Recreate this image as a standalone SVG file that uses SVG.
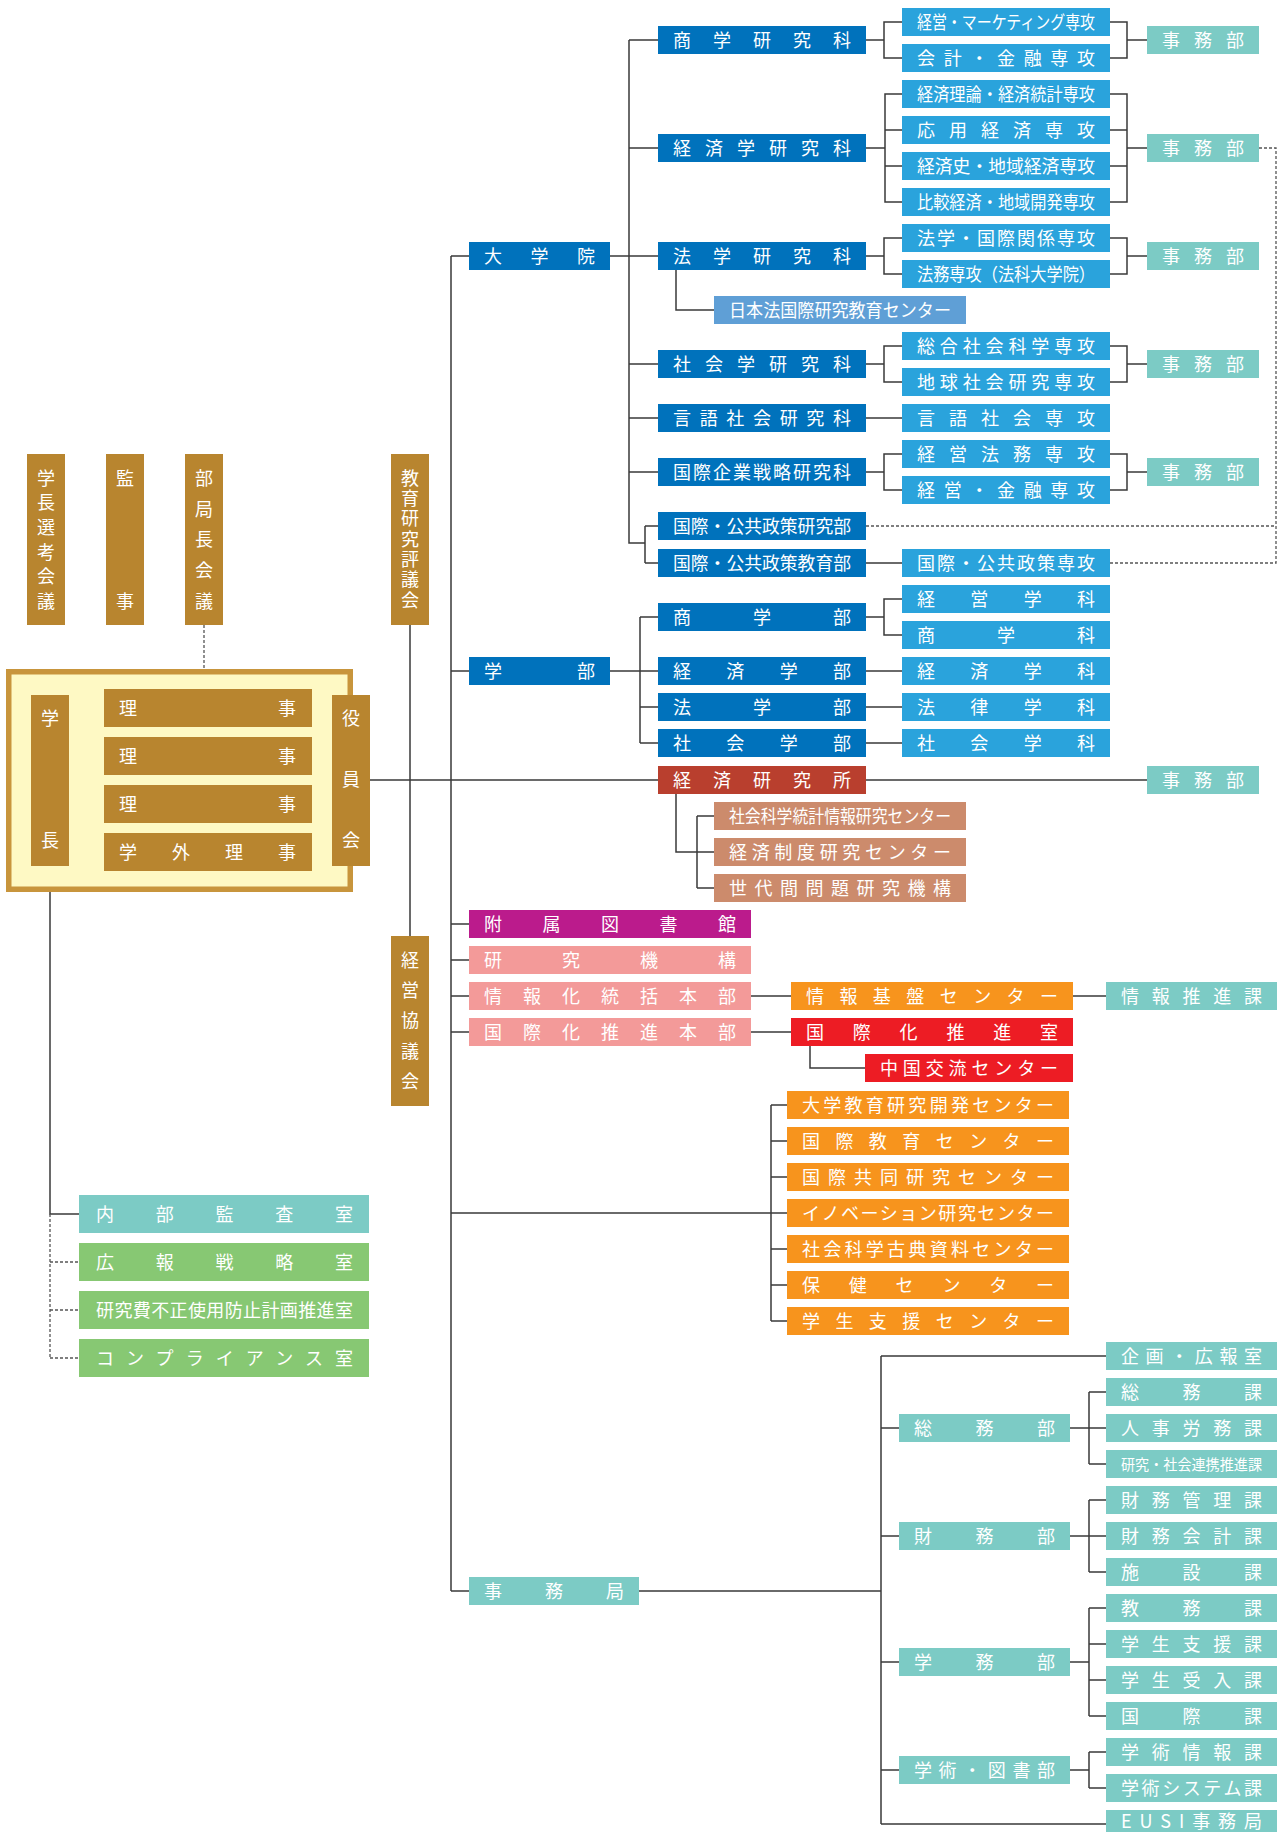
<svg xmlns="http://www.w3.org/2000/svg" width="1282" height="1832" viewBox="0 0 1282 1832">
<style>
text{font-family:"Noto Sans CJK JP","Noto Sans",sans-serif;fill:#fff;font-size:18px}
.v{writing-mode:vertical-rl;text-anchor:start}
.sm{font-size:14.5px}
.b1{fill:#0072bc}.b2{fill:#2aa3dc}.b3{fill:#5f9fd6}.tl{fill:#7ccbc5}.rb{fill:#b93f2e}.sb{fill:#cc8b6c}
.pu{fill:#bb1b8c}.pk{fill:#f39a99}.or{fill:#f7941d}.rd{fill:#ed1c24}.gd{fill:#b8852f}.gr{fill:#87c873}
.ln{stroke:#3a3a3a;stroke-width:1.5;fill:none}
.dt{stroke:#555;stroke-width:1.3;fill:none;stroke-dasharray:3 2}
</style>
<rect width="1282" height="1832" fill="#fff"/>
<g id="connectors">
<path class="ln" d="M451,256V1591M451,256H469M451,671H469M451,924H469M451,960H469M451,996H469M451,1032H469M451,1213H771M451,1591H469"/>
<path class="ln" d="M370,780H658M866,780H1147M410,625V936M50,866V1214H79"/>
<path class="dt" d="M204,625V669M50,1214V1358M50,1262H79M50,1310H79M50,1358H79"/>
<path class="ln" d="M610,256H658M629,40V543H645M629,40H658M629,148H658M629,364H658M629,418H658M629,472H658M645,526V563M645,526H658M645,563H658M676,270V310H714"/>
<path class="ln" d="M866,40H884M902,22H884V58H902M1110,22H1127V58H1110M1127,40H1147"/>
<path class="ln" d="M866,148H885M902,94H885V202H902M885,130H902M885,166H902M1110,94H1127V202H1110M1110,130H1127M1110,166H1127M1127,148H1147"/>
<path class="ln" d="M866,256H884M902,238H884V274H902M1110,238H1127V274H1110M1127,256H1147"/>
<path class="ln" d="M866,364H884M902,346H884V382H902M1110,346H1127V382H1110M1127,364H1147"/>
<path class="ln" d="M866,418H902M866,472H884M902,454H884V490H902M1110,454H1127V490H1110M1127,472H1147M866,563H902"/>
<path class="dt" d="M866,526H1276M1110,563H1276V148H1259"/>
<path class="ln" d="M610,671H658M640,617V743M640,617H658M640,707H658M640,743H658M866,617H884M902,599H884V635H902M866,671H902M866,707H902M866,743H902"/>
<path class="ln" d="M676,794V852H697M697,816V888M697,816H714M697,852H714M697,888H714"/>
<path class="ln" d="M751,996H791M1073,996H1106M751,1032H791M810,1046V1068H865"/>
<path class="ln" d="M771,1105V1321M771,1105H787M771,1141H787M771,1177H787M771,1213H787M771,1249H787M771,1285H787M771,1321H787"/>
<path class="ln" d="M639,1591H881M881,1356V1824M881,1356H1106M881,1428H899M881,1536H899M881,1662H899M881,1770H899M881,1824H1106"/>
<path class="ln" d="M1070,1428H1089M1089,1392V1464M1089,1392H1106M1089,1428H1106M1089,1464H1106"/>
<path class="ln" d="M1070,1536H1089M1089,1500V1572M1089,1500H1106M1089,1536H1106M1089,1572H1106"/>
<path class="ln" d="M1070,1662H1089M1089,1608V1716M1089,1608H1106M1089,1644H1106M1089,1680H1106M1089,1716H1106"/>
<path class="ln" d="M1070,1770H1089M1089,1752V1788M1089,1752H1106M1089,1788H1106"/>
</g>
<g id="executive">
<rect x="8.75" y="671.75" width="341.5" height="217.5" fill="#fef9c4" stroke="#c8953c" stroke-width="5.5"/>
</g>
<g id="n_gakucho_senko"><rect class="gd" x="27" y="454" width="38" height="171"/><text class="v" x="46" y="469" letter-spacing="6.6">学長選考会議</text></g>
<g id="n_kanji"><rect class="gd" x="106" y="454" width="38" height="171"/><text class="v" x="125" y="469" letter-spacing="105">監事</text></g>
<g id="n_bukyokucho"><rect class="gd" x="185" y="454" width="38" height="171"/><text class="v" x="204" y="469" letter-spacing="12.75">部局長会議</text></g>
<g id="n_kyoiku_hyogikai"><rect class="gd" x="391" y="454" width="38" height="171"/><text class="v" x="410" y="469" letter-spacing="2.33">教育研究評議会</text></g>
<g id="n_keiei_kyogikai"><rect class="gd" x="391" y="936" width="38" height="170"/><text class="v" x="410" y="951" letter-spacing="12.25">経営協議会</text></g>
<g id="n_gakucho"><rect class="gd" x="31" y="695" width="38" height="171"/><text class="v" x="50" y="709" letter-spacing="104">学長</text></g>
<g id="n_yakuinkai"><rect class="gd" x="332" y="695" width="38" height="171"/><text class="v" x="351" y="709" letter-spacing="43">役員会</text></g>
<g id="n_riji1"><rect class="gd" x="104" y="689" width="208" height="38"/><text x="119" y="714.5" textLength="177" lengthAdjust="spacing">理事</text></g>
<g id="n_riji2"><rect class="gd" x="104" y="737" width="208" height="38"/><text x="119" y="762.5" textLength="177" lengthAdjust="spacing">理事</text></g>
<g id="n_riji3"><rect class="gd" x="104" y="785" width="208" height="38"/><text x="119" y="810.5" textLength="177" lengthAdjust="spacing">理事</text></g>
<g id="n_gakugai_riji"><rect class="gd" x="104" y="833" width="208" height="38"/><text x="119" y="858.5" textLength="177" lengthAdjust="spacing">学外理事</text></g>
<g id="n_naibu_kansa"><rect class="tl" x="79" y="1195" width="290" height="38"/><text x="96" y="1220.5" textLength="257" lengthAdjust="spacing">内部監査室</text></g>
<g id="n_koho_senryaku"><rect class="gr" x="79" y="1243" width="290" height="38"/><text x="96" y="1268.5" textLength="257" lengthAdjust="spacing">広報戦略室</text></g>
<g id="n_kenkyuhi"><rect class="gr" x="79" y="1291" width="290" height="38"/><text x="96" y="1316.5" textLength="257" lengthAdjust="spacing">研究費不正使用防止計画推進室</text></g>
<g id="n_compliance"><rect class="gr" x="79" y="1339" width="290" height="38"/><text x="96" y="1364.5" textLength="257" lengthAdjust="spacing">コンプライアンス室</text></g>
<g id="n_daigakuin"><rect class="b1" x="469" y="242" width="141" height="28"/><text x="484" y="263" textLength="111" lengthAdjust="spacing">大学院</text></g>
<g id="n_shogaku_kenkyuka"><rect class="b1" x="658" y="26" width="208" height="28"/><text x="673" y="47" textLength="178" lengthAdjust="spacing">商学研究科</text></g>
<g id="n_keizai_kenkyuka"><rect class="b1" x="658" y="134" width="208" height="28"/><text x="673" y="155" textLength="178" lengthAdjust="spacing">経済学研究科</text></g>
<g id="n_hogaku_kenkyuka"><rect class="b1" x="658" y="242" width="208" height="28"/><text x="673" y="263" textLength="178" lengthAdjust="spacing">法学研究科</text></g>
<g id="n_shakai_kenkyuka"><rect class="b1" x="658" y="350" width="208" height="28"/><text x="673" y="371" textLength="178" lengthAdjust="spacing">社会学研究科</text></g>
<g id="n_gengo_kenkyuka"><rect class="b1" x="658" y="404" width="208" height="28"/><text x="673" y="425" textLength="178" lengthAdjust="spacing">言語社会研究科</text></g>
<g id="n_kigyo_kenkyuka"><rect class="b1" x="658" y="458" width="208" height="28"/><text x="673" y="479" textLength="178" lengthAdjust="spacing">国際企業戦略研究科</text></g>
<g id="n_koukyo_kenkyubu"><rect class="b1" x="658" y="512" width="208" height="28"/><text x="673" y="533" textLength="178" lengthAdjust="spacingAndGlyphs">国際・公共政策研究部</text></g>
<g id="n_koukyo_kyoikubu"><rect class="b1" x="658" y="549" width="208" height="28"/><text x="673" y="570" textLength="178" lengthAdjust="spacingAndGlyphs">国際・公共政策教育部</text></g>
<g id="n_nihonho"><rect class="b3" x="714" y="296" width="252" height="28"/><text x="729" y="317" textLength="222" lengthAdjust="spacingAndGlyphs">日本法国際研究教育センター</text></g>
<g id="n_m1"><rect class="b2" x="902" y="8" width="208" height="28"/><text x="917" y="29" textLength="178" lengthAdjust="spacingAndGlyphs">経営・マーケティング専攻</text></g>
<g id="n_m2"><rect class="b2" x="902" y="44" width="208" height="28"/><text x="917" y="65" textLength="178" lengthAdjust="spacing">会計・金融専攻</text></g>
<g id="n_m3"><rect class="b2" x="902" y="80" width="208" height="28"/><text x="917" y="101" textLength="178" lengthAdjust="spacingAndGlyphs">経済理論・経済統計専攻</text></g>
<g id="n_m4"><rect class="b2" x="902" y="116" width="208" height="28"/><text x="917" y="137" textLength="178" lengthAdjust="spacing">応用経済専攻</text></g>
<g id="n_m5"><rect class="b2" x="902" y="152" width="208" height="28"/><text x="917" y="173" textLength="178" lengthAdjust="spacingAndGlyphs">経済史・地域経済専攻</text></g>
<g id="n_m6"><rect class="b2" x="902" y="188" width="208" height="28"/><text x="917" y="209" textLength="178" lengthAdjust="spacingAndGlyphs">比較経済・地域開発専攻</text></g>
<g id="n_m7"><rect class="b2" x="902" y="224" width="208" height="28"/><text x="917" y="245" textLength="178" lengthAdjust="spacing">法学・国際関係専攻</text></g>
<g id="n_m8"><rect class="b2" x="902" y="260" width="208" height="28"/><text x="917" y="281" textLength="178" lengthAdjust="spacingAndGlyphs">法務専攻（法科大学院）</text></g>
<g id="n_m9"><rect class="b2" x="902" y="332" width="208" height="28"/><text x="917" y="353" textLength="178" lengthAdjust="spacing">総合社会科学専攻</text></g>
<g id="n_m10"><rect class="b2" x="902" y="368" width="208" height="28"/><text x="917" y="389" textLength="178" lengthAdjust="spacing">地球社会研究専攻</text></g>
<g id="n_m11"><rect class="b2" x="902" y="404" width="208" height="28"/><text x="917" y="425" textLength="178" lengthAdjust="spacing">言語社会専攻</text></g>
<g id="n_m12"><rect class="b2" x="902" y="440" width="208" height="28"/><text x="917" y="461" textLength="178" lengthAdjust="spacing">経営法務専攻</text></g>
<g id="n_m13"><rect class="b2" x="902" y="476" width="208" height="28"/><text x="917" y="497" textLength="178" lengthAdjust="spacing">経営・金融専攻</text></g>
<g id="n_m14"><rect class="b2" x="902" y="549" width="208" height="28"/><text x="917" y="570" textLength="178" lengthAdjust="spacing">国際・公共政策専攻</text></g>
<g id="n_jimu1"><rect class="tl" x="1147" y="26" width="112" height="28"/><text x="1162" y="47" textLength="82" lengthAdjust="spacing">事務部</text></g>
<g id="n_jimu2"><rect class="tl" x="1147" y="134" width="112" height="28"/><text x="1162" y="155" textLength="82" lengthAdjust="spacing">事務部</text></g>
<g id="n_jimu3"><rect class="tl" x="1147" y="242" width="112" height="28"/><text x="1162" y="263" textLength="82" lengthAdjust="spacing">事務部</text></g>
<g id="n_jimu4"><rect class="tl" x="1147" y="350" width="112" height="28"/><text x="1162" y="371" textLength="82" lengthAdjust="spacing">事務部</text></g>
<g id="n_jimu5"><rect class="tl" x="1147" y="458" width="112" height="28"/><text x="1162" y="479" textLength="82" lengthAdjust="spacing">事務部</text></g>
<g id="n_jimu6"><rect class="tl" x="1147" y="766" width="112" height="28"/><text x="1162" y="787" textLength="82" lengthAdjust="spacing">事務部</text></g>
<g id="n_gakubu"><rect class="b1" x="469" y="657" width="141" height="28"/><text x="484" y="678" textLength="111" lengthAdjust="spacing">学部</text></g>
<g id="n_shogakubu"><rect class="b1" x="658" y="603" width="208" height="28"/><text x="673" y="624" textLength="178" lengthAdjust="spacing">商学部</text></g>
<g id="n_keizaigakubu"><rect class="b1" x="658" y="657" width="208" height="28"/><text x="673" y="678" textLength="178" lengthAdjust="spacing">経済学部</text></g>
<g id="n_hogakubu"><rect class="b1" x="658" y="693" width="208" height="28"/><text x="673" y="714" textLength="178" lengthAdjust="spacing">法学部</text></g>
<g id="n_shakaigakubu"><rect class="b1" x="658" y="729" width="208" height="28"/><text x="673" y="750" textLength="178" lengthAdjust="spacing">社会学部</text></g>
<g id="n_k1"><rect class="b2" x="902" y="585" width="208" height="28"/><text x="917" y="606" textLength="178" lengthAdjust="spacing">経営学科</text></g>
<g id="n_k2"><rect class="b2" x="902" y="621" width="208" height="28"/><text x="917" y="642" textLength="178" lengthAdjust="spacing">商学科</text></g>
<g id="n_k3"><rect class="b2" x="902" y="657" width="208" height="28"/><text x="917" y="678" textLength="178" lengthAdjust="spacing">経済学科</text></g>
<g id="n_k4"><rect class="b2" x="902" y="693" width="208" height="28"/><text x="917" y="714" textLength="178" lengthAdjust="spacing">法律学科</text></g>
<g id="n_k5"><rect class="b2" x="902" y="729" width="208" height="28"/><text x="917" y="750" textLength="178" lengthAdjust="spacing">社会学科</text></g>
<g id="n_keiken"><rect class="rb" x="658" y="766" width="208" height="28"/><text x="673" y="787" textLength="178" lengthAdjust="spacing">経済研究所</text></g>
<g id="n_c1"><rect class="sb" x="714" y="802" width="252" height="28"/><text x="729" y="823" textLength="222" lengthAdjust="spacingAndGlyphs">社会科学統計情報研究センター</text></g>
<g id="n_c2"><rect class="sb" x="714" y="838" width="252" height="28"/><text x="729" y="859" textLength="222" lengthAdjust="spacing">経済制度研究センター</text></g>
<g id="n_c3"><rect class="sb" x="714" y="874" width="252" height="28"/><text x="729" y="895" textLength="222" lengthAdjust="spacing">世代間問題研究機構</text></g>
<g id="n_toshokan"><rect class="pu" x="469" y="910" width="282" height="28"/><text x="484" y="931" textLength="252" lengthAdjust="spacing">附属図書館</text></g>
<g id="n_kenkyukiko"><rect class="pk" x="469" y="946" width="282" height="28"/><text x="484" y="967" textLength="252" lengthAdjust="spacing">研究機構</text></g>
<g id="n_johoka"><rect class="pk" x="469" y="982" width="282" height="28"/><text x="484" y="1003" textLength="252" lengthAdjust="spacing">情報化統括本部</text></g>
<g id="n_kokusaika"><rect class="pk" x="469" y="1018" width="282" height="28"/><text x="484" y="1039" textLength="252" lengthAdjust="spacing">国際化推進本部</text></g>
<g id="n_johokiban"><rect class="or" x="791" y="982" width="282" height="28"/><text x="806" y="1003" textLength="252" lengthAdjust="spacing">情報基盤センター</text></g>
<g id="n_kokusaika_shitsu"><rect class="rd" x="791" y="1018" width="282" height="28"/><text x="806" y="1039" textLength="252" lengthAdjust="spacing">国際化推進室</text></g>
<g id="n_chugoku"><rect class="rd" x="865" y="1054" width="208" height="28"/><text x="880" y="1075" textLength="178" lengthAdjust="spacing">中国交流センター</text></g>
<g id="n_johosuishin"><rect class="tl" x="1106" y="982" width="171" height="28"/><text x="1121" y="1003" textLength="141" lengthAdjust="spacing">情報推進課</text></g>
<g id="n_ctr1"><rect class="or" x="787" y="1091" width="282" height="28"/><text x="802" y="1112" textLength="252" lengthAdjust="spacing">大学教育研究開発センター</text></g>
<g id="n_ctr2"><rect class="or" x="787" y="1127" width="282" height="28"/><text x="802" y="1148" textLength="252" lengthAdjust="spacing">国際教育センター</text></g>
<g id="n_ctr3"><rect class="or" x="787" y="1163" width="282" height="28"/><text x="802" y="1184" textLength="252" lengthAdjust="spacing">国際共同研究センター</text></g>
<g id="n_ctr4"><rect class="or" x="787" y="1199" width="282" height="28"/><text x="802" y="1220" textLength="252" lengthAdjust="spacing">イノベーション研究センター</text></g>
<g id="n_ctr5"><rect class="or" x="787" y="1235" width="282" height="28"/><text x="802" y="1256" textLength="252" lengthAdjust="spacing">社会科学古典資料センター</text></g>
<g id="n_ctr6"><rect class="or" x="787" y="1271" width="282" height="28"/><text x="802" y="1292" textLength="252" lengthAdjust="spacing">保健センター</text></g>
<g id="n_ctr7"><rect class="or" x="787" y="1307" width="282" height="28"/><text x="802" y="1328" textLength="252" lengthAdjust="spacing">学生支援センター</text></g>
<g id="n_jimukyoku"><rect class="tl" x="469" y="1577" width="170" height="28"/><text x="484" y="1598" textLength="140" lengthAdjust="spacing">事務局</text></g>
<g id="n_somubu"><rect class="tl" x="899" y="1414" width="171" height="28"/><text x="914" y="1435" textLength="141" lengthAdjust="spacing">総務部</text></g>
<g id="n_zaimubu"><rect class="tl" x="899" y="1522" width="171" height="28"/><text x="914" y="1543" textLength="141" lengthAdjust="spacing">財務部</text></g>
<g id="n_gakumubu"><rect class="tl" x="899" y="1648" width="171" height="28"/><text x="914" y="1669" textLength="141" lengthAdjust="spacing">学務部</text></g>
<g id="n_gakujutsu_tosho"><rect class="tl" x="899" y="1756" width="171" height="28"/><text x="914" y="1777" textLength="141" lengthAdjust="spacing">学術・図書部</text></g>
<g id="n_s1"><rect class="tl" x="1106" y="1342" width="171" height="28"/><text x="1121" y="1363" textLength="141" lengthAdjust="spacing">企画・広報室</text></g>
<g id="n_s2"><rect class="tl" x="1106" y="1378" width="171" height="28"/><text x="1121" y="1399" textLength="141" lengthAdjust="spacing">総務課</text></g>
<g id="n_s3"><rect class="tl" x="1106" y="1414" width="171" height="28"/><text x="1121" y="1435" textLength="141" lengthAdjust="spacing">人事労務課</text></g>
<g id="n_s4"><rect class="tl" x="1106" y="1450" width="171" height="28"/><text class="sm" x="1121" y="1469.5" textLength="141" lengthAdjust="spacingAndGlyphs">研究・社会連携推進課</text></g>
<g id="n_s5"><rect class="tl" x="1106" y="1486" width="171" height="28"/><text x="1121" y="1507" textLength="141" lengthAdjust="spacing">財務管理課</text></g>
<g id="n_s6"><rect class="tl" x="1106" y="1522" width="171" height="28"/><text x="1121" y="1543" textLength="141" lengthAdjust="spacing">財務会計課</text></g>
<g id="n_s7"><rect class="tl" x="1106" y="1558" width="171" height="28"/><text x="1121" y="1579" textLength="141" lengthAdjust="spacing">施設課</text></g>
<g id="n_s8"><rect class="tl" x="1106" y="1594" width="171" height="28"/><text x="1121" y="1615" textLength="141" lengthAdjust="spacing">教務課</text></g>
<g id="n_s9"><rect class="tl" x="1106" y="1630" width="171" height="28"/><text x="1121" y="1651" textLength="141" lengthAdjust="spacing">学生支援課</text></g>
<g id="n_s10"><rect class="tl" x="1106" y="1666" width="171" height="28"/><text x="1121" y="1687" textLength="141" lengthAdjust="spacing">学生受入課</text></g>
<g id="n_s11"><rect class="tl" x="1106" y="1702" width="171" height="28"/><text x="1121" y="1723" textLength="141" lengthAdjust="spacing">国際課</text></g>
<g id="n_s12"><rect class="tl" x="1106" y="1738" width="171" height="28"/><text x="1121" y="1759" textLength="141" lengthAdjust="spacing">学術情報課</text></g>
<g id="n_s13"><rect class="tl" x="1106" y="1774" width="171" height="28"/><text x="1121" y="1795" textLength="141" lengthAdjust="spacing">学術システム課</text></g>
<g id="n_s14"><rect class="tl" x="1106" y="1810" width="171" height="28"/><text x="1121" y="1828" textLength="141" lengthAdjust="spacing">EUSI事務局</text></g>
</svg>
